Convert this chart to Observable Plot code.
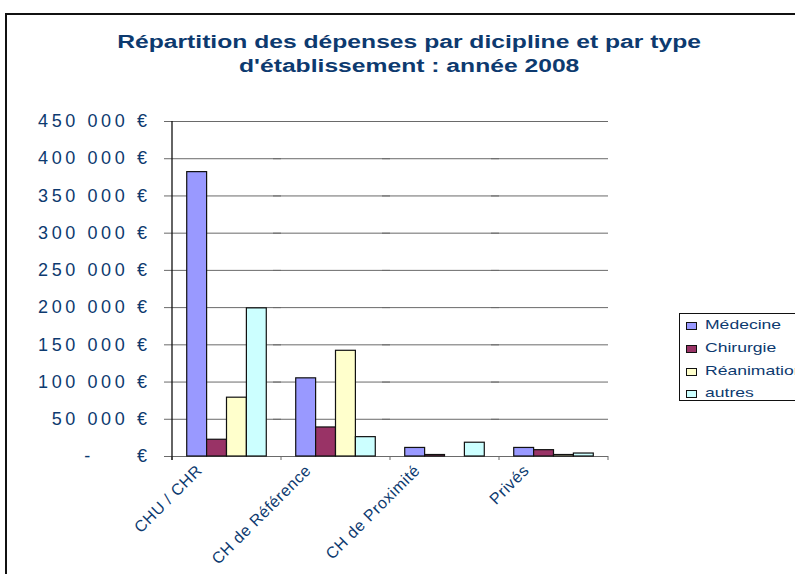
<!DOCTYPE html>
<html>
<head>
<meta charset="utf-8">
<script src="https://cdn.jsdelivr.net/npm/d3@7"></script>
<script src="https://cdn.jsdelivr.net/npm/@observablehq/plot@0.6"></script>
<style>
  html, body { margin: 0; padding: 0; width: 795px; height: 574px; overflow: hidden; background: #fff; }
  #wrap { position: relative; width: 795px; height: 574px; overflow: hidden; font-family: "Liberation Sans", Arial, sans-serif; color: #0d3a6f; }
  #border { position: absolute; left: 5px; top: 13px; width: 900px; height: 700px; border-left: 2px solid #111; border-top: 2px solid #111; }
  #chart { position: absolute; left: 0; top: 0; }
  #title { position: absolute; left: 0; top: 30px; width: 818px; text-align: center; font-weight: bold; font-size: 18px; line-height: 24px; }
  #title span { display: inline-block; transform: scaleX(1.37); white-space: nowrap; }
  #legend { position: absolute; left: 679px; top: 313px; width: 140px; height: 86px; border: 1px solid #111; }
  .item { position: absolute; left: 6px; height: 16px; font-size: 13px; white-space: nowrap; }
  .sw { position: absolute; left: 0; top: 5px; width: 9px; height: 6px; border: 1px solid #111; }
  .lab { position: absolute; left: 19px; top: 0; display: inline-block; transform: scaleX(1.35); transform-origin: left center; line-height: 16px; }
  g[aria-label="y-axis tick label"] { letter-spacing: 3.6px; }
  g[aria-label="fx-axis tick label"] { letter-spacing: 0.6px; }
</style>
</head>
<body>
<div id="wrap">
  <div id="border"></div>
  <div id="chart"></div>
  <div id="title"><span>Répartition des dépenses par dicipline et par type</span><br><span>d'établissement : année 2008</span></div>
  <div id="legend"></div>
</div>
<script>
const categories = ["CHU / CHR", "CH de Référence", "CH de Proximité", "Privés"];
const series = ["Médecine", "Chirurgie", "Réanimation", "autres"];
const medecine = [382000, 105000, 11500, 11500];
const chirurgie = [22500, 39000, 2000, 8500];
const reanimation = [79000, 142000, 0, 2000];
const autres = [199000, 26000, 18500, 4000];
const colors = ["#9999FF", "#993366", "#FFFFCC", "#CCFFFF"];
const yTicks = [0, 50000, 100000, 150000, 200000, 250000, 300000, 350000, 400000, 450000];

const valuesBySeries = [medecine, chirurgie, reanimation, autres];
const data = [];
categories.forEach((c, i) => {
  series.forEach((s, k) => {
    data.push({category: c, series: s, value: valuesBySeries[k][i]});
  });
});

const NB = "\u00a0";
const fmt = d => d === 0 ? "-" + NB.repeat(5) + "€" : d3.format(",")(d).replace(/,/g, NB) + NB + "€";

const plot = Plot.plot({
  width: 795,
  height: 574,
  marginLeft: 172,
  marginRight: 187,
  marginTop: 121,
  marginBottom: 118,
  style: {fontFamily: "'Liberation Sans', Arial, sans-serif", color: "#0d3a6f", background: "transparent", overflow: "visible"},
  fx: {domain: categories, padding: 0, label: null},
  x: {domain: series, paddingInner: 0, paddingOuter: 0.74, round: false, axis: null},
  y: {domain: [0, 450000], axis: null},
  color: {domain: series, range: colors},
  marks: [
    Plot.ruleY(yTicks, {y: d => d, stroke: "#6a6a6a", strokeWidth: 1, insetLeft: -8}),
    Plot.barY(data.filter(d => d.value > 0), {fx: "category", x: "series", y: "value", fill: "series", stroke: "#111", strokeWidth: 1.2}),
    Plot.axisY({ticks: yTicks, tickSize: 0, tickPadding: 22, tickFormat: fmt, fontSize: 18, fill: "#0d3a6f", label: null}),
    Plot.axisFx({anchor: "bottom", tickSize: 0, tickPadding: 0, tickRotate: -45, textAnchor: "end", lineAnchor: "bottom", dx: -24, dy: 15, fontSize: 16, fill: "#0d3a6f", label: null})
  ]
});
document.getElementById("chart").appendChild(plot);

// axis line and category-boundary ticks, positioned from the plot's own scales
const fxScale = plot.scale("fx");
const yScale = plot.scale("y");
const y0 = yScale.apply(0);
const yTop = yScale.apply(450000);
const svg = d3.select(plot);
const edges = categories.map(c => fxScale.apply(c)).concat([fxScale.apply(categories[categories.length - 1]) + fxScale.bandwidth]);
svg.append("g").selectAll("line").data(edges).join("line")
  .attr("x1", d => d).attr("x2", d => d)
  .attr("y1", y0).attr("y2", y0 + 4)
  .attr("stroke", "#6a6a6a");
svg.append("line")
  .attr("x1", edges[0]).attr("x2", edges[0])
  .attr("y1", yTop).attr("y2", y0 + 4)
  .attr("stroke", "#111").attr("stroke-width", 1.3);

const legend = document.getElementById("legend");
const tops = [3, 26, 49, 71];
series.forEach((s, k) => {
  const item = document.createElement("div");
  item.className = "item";
  item.style.top = tops[k] + "px";
  const sw = document.createElement("div");
  sw.className = "sw";
  sw.style.background = colors[k];
  const lab = document.createElement("span");
  lab.className = "lab";
  lab.textContent = s;
  item.appendChild(sw);
  item.appendChild(lab);
  legend.appendChild(item);
});
</script>
</body>
</html>
